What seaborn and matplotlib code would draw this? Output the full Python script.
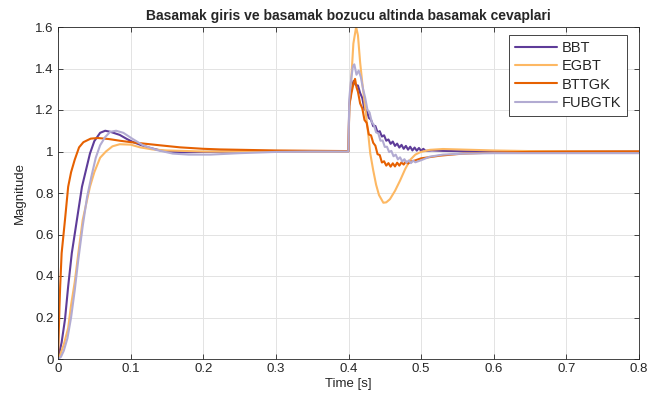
import matplotlib
matplotlib.use('Agg')
import matplotlib.pyplot as plt
import matplotlib.ticker as mticker
import pandas as pd
import seaborn as sns

# controller names and colours (legend order)
names = ['BBT', 'EGBT', 'BTTGK', 'FUBGTK']
colors = ['#5e3c99', '#fdb863', '#e66101', '#b2abd2']

# BBT
t_bbt = [0, 0.005, 0.0096, 0.014, 0.019, 0.026, 0.033, 0.044, 0.05, 0.058, 0.065, 0.072,
         0.085, 0.095, 0.103, 0.115, 0.127, 0.14, 0.15, 0.17, 0.2, 0.25, 0.3, 0.35, 0.4,
         0.401, 0.404, 0.407, 0.41,
         0.413, 0.416, 0.419, 0.422, 0.425, 0.428, 0.431, 0.434, 0.437, 0.44, 0.443, 0.446,
         0.449, 0.452, 0.455, 0.458, 0.461, 0.464, 0.467, 0.47, 0.473, 0.476, 0.479, 0.482,
         0.485, 0.488, 0.491, 0.494, 0.497, 0.5, 0.503, 0.506,
         0.515, 0.53, 0.56, 0.6, 0.7, 0.8]
y_bbt = [0, 0.08, 0.19, 0.35, 0.51, 0.67, 0.83, 0.99, 1.05, 1.09, 1.10, 1.095,
         1.08, 1.06, 1.046, 1.03, 1.017, 1.006, 1.0, 0.996, 0.998, 1.0, 1.0, 1.0, 1.0,
         1.22, 1.30, 1.34, 1.32,
         1.318, 1.282, 1.258, 1.202, 1.198, 1.162, 1.153, 1.122, 1.123, 1.092, 1.098, 1.072,
         1.078, 1.052, 1.058, 1.037, 1.048, 1.027, 1.038, 1.019, 1.032, 1.013, 1.027, 1.009,
         1.023, 1.005, 1.019, 1.004, 1.017, 1.003, 1.013, 1.003,
         1.005, 1.003, 1.001, 1.0, 1.0, 1.0]

# EGBT
t_egbt = [0, 0.003, 0.008, 0.014, 0.018, 0.023, 0.028, 0.034, 0.044, 0.05, 0.058, 0.066,
          0.075, 0.085, 0.1, 0.113, 0.13, 0.15, 0.2, 0.3, 0.4,
          0.401, 0.4045, 0.4067, 0.4105, 0.413, 0.416, 0.419, 0.423, 0.427, 0.43, 0.434,
          0.438, 0.442, 0.448, 0.452, 0.457, 0.464, 0.471, 0.478, 0.485, 0.492, 0.499,
          0.512, 0.53, 0.55, 0.6, 0.65, 0.8]
y_egbt = [0, 0.02, 0.07, 0.15, 0.26, 0.37, 0.51, 0.67, 0.83, 0.90, 0.97, 1.0,
          1.025, 1.035, 1.033, 1.02, 1.01, 1.005, 1.0, 1.0, 1.0,
          1.2, 1.39, 1.52, 1.60, 1.56, 1.43, 1.33, 1.21, 1.09, 0.99, 0.91,
          0.84, 0.79, 0.753, 0.755, 0.77, 0.81, 0.86, 0.915, 0.96, 0.985, 0.997,
          1.008, 1.012, 1.01, 1.005, 1.002, 1.0]

# BTTGK
t_bttgk = [0, 0.001, 0.002, 0.003, 0.005, 0.0096, 0.014, 0.018, 0.023, 0.029, 0.035, 0.045,
           0.055, 0.07, 0.085, 0.1, 0.113, 0.14, 0.168, 0.2, 0.223, 0.3, 0.4,
           0.401, 0.404, 0.407, 0.409, 0.411,
           0.413, 0.416, 0.419, 0.422, 0.425, 0.428, 0.431, 0.434, 0.437, 0.44, 0.443, 0.446,
           0.449, 0.452, 0.455, 0.458, 0.461, 0.464, 0.467, 0.47, 0.473, 0.476, 0.479, 0.482,
           0.486, 0.49, 0.5, 0.526, 0.558, 0.605, 0.65, 0.7, 0.8]
y_bttgk = [0, 0.12, 0.25, 0.35, 0.51, 0.67, 0.83, 0.90, 0.96, 1.02, 1.045, 1.062,
           1.065, 1.06, 1.052, 1.045, 1.04, 1.03, 1.02, 1.013, 1.01, 1.005, 1.002,
           1.22, 1.28, 1.33, 1.35, 1.31,
           1.288, 1.232, 1.208, 1.152, 1.138, 1.082, 1.078, 1.042, 1.028, 0.987, 0.983, 0.947,
           0.953, 0.932, 0.944, 0.927, 0.943, 0.928, 0.946, 0.932, 0.948, 0.937, 0.952, 0.942,
           0.952, 0.955, 0.967, 0.98, 0.99, 0.995, 0.998, 0.999, 1.0]

# FUBGTK
t_fub = [0, 0.004, 0.008, 0.013, 0.018, 0.023, 0.028, 0.034, 0.04, 0.046, 0.052, 0.058,
         0.065, 0.072, 0.08, 0.09, 0.103, 0.117, 0.136, 0.158, 0.18, 0.21, 0.25, 0.3, 0.35, 0.4,
         0.401, 0.403, 0.406, 0.408, 0.411, 0.414,
         0.417, 0.42, 0.423, 0.426, 0.429, 0.432, 0.435, 0.438, 0.441, 0.444, 0.447, 0.45,
         0.453, 0.456, 0.459, 0.462, 0.465, 0.468, 0.471, 0.474, 0.477, 0.48, 0.483, 0.486,
         0.489, 0.492, 0.5, 0.512, 0.53, 0.56, 0.6, 0.8]
y_fub = [0, 0.01, 0.04, 0.10, 0.20, 0.33, 0.48, 0.64, 0.78, 0.88, 0.97, 1.03,
         1.07, 1.095, 1.10, 1.09, 1.06, 1.03, 1.007, 0.99, 0.985, 0.985, 0.992, 0.998, 1.0, 1.0,
         1.25, 1.33, 1.41, 1.42, 1.37, 1.39,
         1.358, 1.302, 1.258, 1.202, 1.188, 1.142, 1.128, 1.092, 1.088, 1.052, 1.053, 1.022,
         1.023, 0.997, 1.003, 0.977, 0.985, 0.962, 0.972, 0.952, 0.963, 0.946, 0.957, 0.944,
         0.956, 0.948, 0.958, 0.975, 0.985, 0.99, 0.992, 0.992]

xticks = [0, 0.1, 0.2, 0.3, 0.4, 0.5, 0.6, 0.7, 0.8]
yticks = [0, 0.2, 0.4, 0.6, 0.8, 1.0, 1.2, 1.4, 1.6]

series = [(t_bbt, y_bbt), (t_egbt, y_egbt), (t_bttgk, y_bttgk), (t_fub, y_fub)]
frames = []
for name, (t, y) in zip(names, series):
    frames.append(pd.DataFrame({'Time': t, 'Magnitude': y, 'ctrl': name}))
df = pd.concat(frames, ignore_index=True)

sns.set_theme(style='ticks')
plt.rcParams['font.family'] = ['Liberation Sans', 'DejaVu Sans']

fig = plt.figure(figsize=(6.61, 4.08), dpi=100)
ax = fig.add_axes([58 / 661, 49 / 408, 581 / 661, 332 / 408])

sns.lineplot(data=df, x='Time', y='Magnitude', hue='ctrl', hue_order=names,
             palette=colors, estimator=None, sort=False, linewidth=1.5,
             legend=False, ax=ax)

ax.set_xlim(0, 0.8)
ax.set_ylim(0, 1.6)
ax.set_xticks(xticks)
ax.set_yticks(yticks)
fmt = mticker.FuncFormatter(lambda v, p: '{:g}'.format(round(v, 2)))
ax.xaxis.set_major_formatter(fmt)
ax.yaxis.set_major_formatter(fmt)
ax.grid(True, color='#e3e3e3', linewidth=0.7)
ax.set_axisbelow(True)
ax.tick_params(direction='in', top=True, right=True, length=3.5, width=0.6,
               labelsize=9.5, colors='#262626', pad=3)
for sp in ax.spines.values():
    sp.set_visible(True)
    sp.set_color('#262626')
    sp.set_linewidth(0.6)

ax.set_xlabel('Time [s]', fontsize=9.5, color='#262626', labelpad=2)
ax.set_ylabel('Magnitude', fontsize=9.5, color='#262626', labelpad=7)
ax.set_title('Basamak giris ve basamak bozucu altinda basamak cevaplari',
             fontsize=10, fontweight='bold', pad=5)

leg = ax.legend(ax.lines[:4], names, loc='upper right', bbox_to_anchor=(0.979, 0.976),
                borderaxespad=0, fontsize=10.5, handlelength=2.9, handletextpad=0.3,
                labelspacing=0.3, borderpad=0.4, fancybox=False, framealpha=1)
leg.get_frame().set_edgecolor('#262626')
leg.get_frame().set_linewidth(0.6)

fig.savefig('out.png', dpi=100)
